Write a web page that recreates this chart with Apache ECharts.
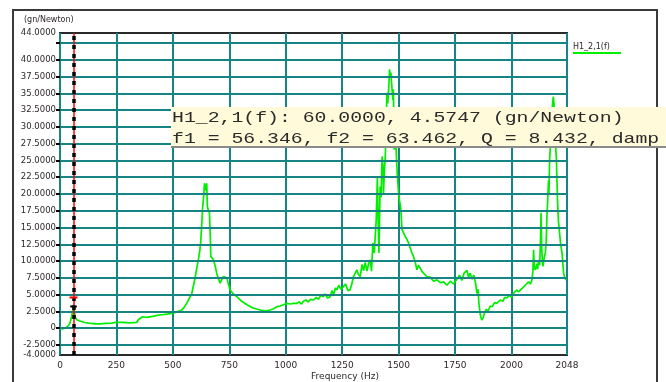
<!DOCTYPE html>
<html>
<head>
    <meta charset="utf-8">
    <title>H1_2,1(f)</title>
    <script src="https://cdn.jsdelivr.net/npm/echarts@6/dist/echarts.min.js"></script>
    <style>
        html, body { margin: 0; padding: 0; background: #fff; }
        #main { width: 666px; height: 382px; }
    </style>
</head>
<body>
<div id="main"></div>
<script>
    // 频响曲线数据 (Hz, gn/Newton)
    var seriesName = 'H1_2,1(f)';
    var freqs = [0, 10, 22, 35, 44, 52, 56, 60, 64, 68, 74, 85, 96, 110, 126, 140, 155, 180, 200, 229,
        244, 280, 310, 340, 347, 365, 384, 410, 430, 451, 475, 495, 515, 539, 550, 561, 572, 584, 598, 606,
        613, 619, 623, 628, 632, 636, 640, 644, 647, 650, 653, 658, 662, 666, 668, 674, 680, 688, 694, 702,
        709, 716, 724, 732, 739, 746, 754, 768, 783, 805, 828, 855, 887, 910, 931, 946, 961, 975, 990, 1005,
        1020, 1035, 1049, 1060, 1070, 1078, 1090, 1100, 1110, 1123, 1135, 1145, 1155, 1167, 1175, 1185, 1197, 1205, 1212, 1220,
        1226, 1235, 1245, 1256, 1265, 1275, 1285, 1292, 1300, 1308, 1315, 1322, 1330, 1338, 1345, 1352, 1360, 1367, 1374, 1380,
        1386, 1392, 1397, 1401, 1406, 1410, 1413, 1418, 1422, 1427, 1431, 1433, 1437, 1441, 1445, 1448, 1452, 1455, 1458, 1460,
        1463, 1466, 1469, 1472, 1475, 1477, 1479, 1481, 1485, 1489, 1494, 1500, 1505, 1510, 1515, 1522, 1529, 1536, 1544, 1552,
        1559, 1566, 1574, 1581, 1588, 1596, 1603, 1610, 1625, 1640, 1655, 1670, 1685, 1700, 1714, 1729, 1743, 1758, 1770, 1780,
        1790, 1803, 1810, 1817, 1826, 1833, 1840, 1847, 1852, 1856, 1862, 1868, 1874, 1880, 1888, 1897, 1906, 1915, 1925, 1935,
        1950, 1962, 1970, 1980, 1990, 2000, 2009, 2016, 2024, 2031, 2039, 2046, 2054, 2061, 2069, 2076, 2084, 2091, 2095, 2098,
        2101, 2106, 2112, 2116, 2120, 2125, 2129, 2131, 2134, 2137, 2140, 2145, 2150, 2154, 2157, 2160, 2164, 2166, 2169, 2172,
        2175, 2178, 2181, 2184, 2186, 2188, 2190, 2193, 2196, 2199, 2204, 2208, 2213, 2218, 2224, 2228, 2231, 2236, 2243];
    var values = [0, -0.1, 0.0, 0.3, 0.75, 1.8, 2.6, 3.2, 2.4, 1.6, 1.25, 1.1, 1.0, 0.85, 0.75, 0.7, 0.65, 0.65, 0.7, 0.75,
        0.85, 0.85, 0.8, 0.85, 1.25, 1.7, 1.6, 1.75, 1.9, 2.0, 2.1, 2.2, 2.4, 2.7, 3.1, 3.7, 4.4, 5.2, 7.4, 9.0,
        10.2, 11.5, 12.7, 15.5, 18.1, 19.5, 21.6, 21.8, 20.5, 21.6, 18.1, 17.5, 17.2, 13.5, 10.7, 10.5, 10.2, 9.2, 8.2, 7.4,
        6.7, 7.2, 7.7, 7.8, 7.5, 6.6, 5.7, 5.1, 4.7, 4.0, 3.5, 3.0, 2.7, 2.6, 2.7, 2.9, 3.2, 3.3, 3.5, 3.7,
        3.6, 3.7, 3.7, 3.9, 3.6, 4.0, 4.2, 3.9, 4.3, 4.2, 4.6, 4.3, 4.9, 4.7, 5.1, 4.5, 4.7, 5.6, 5.0, 6.0,
        5.7, 6.4, 5.8, 6.2, 6.6, 5.6, 5.7, 6.5, 7.7, 8.2, 8.7, 8.0, 7.7, 9.5, 8.6, 9.8, 8.5, 9.6, 10.2, 8.5,
        12.7, 11.2, 14.0, 16.2, 22.6, 15.0, 11.2, 21.1, 19.5, 25.6, 24.0, 20.1, 23.5, 25.6, 30.0, 35.1, 33.5, 35.1, 37.0, 38.6,
        37.6, 38.1, 36.5, 35.1, 34.0, 35.6, 30.5, 26.6, 27.5, 26.6, 23.0, 20.1, 18.8, 17.7, 14.7, 14.2, 13.7, 13.3, 12.7, 11.9,
        11.2, 10.7, 9.8, 8.7, 9.4, 9.2, 8.5, 8.2, 7.7, 7.6, 7.0, 7.2, 6.8, 6.9, 6.4, 7.0, 6.6, 7.3, 7.9, 7.1,
        8.2, 8.6, 7.6, 8.2, 7.3, 7.9, 6.9, 5.2, 5.8, 3.6, 2.0, 1.2, 1.5, 2.2, 2.8, 2.6, 3.3, 3.2, 3.8, 3.7,
        4.2, 4.0, 4.6, 4.5, 4.9, 4.6, 5.2, 5.0, 5.7, 5.4, 5.2, 5.9, 5.7, 6.4, 6.2, 6.9, 6.6, 7.2, 8.5, 11.7,
        9.0, 8.7, 9.6, 8.8, 10.2, 9.4, 13.5, 17.2, 12.0, 10.0, 9.2, 10.5, 11.2, 13.0, 16.5, 18.7, 22.0, 20.0, 25.1, 27.0,
        29.1, 30.5, 33.0, 34.1, 34.5, 33.5, 32.6, 28.0, 27.0, 25.1, 19.1, 16.0, 14.2, 12.5, 11.2, 9.5, 8.2, 7.5, 7.2];

    // 光标读数
    var cursorFreq = 60.0;
    var cursorValue = 4.5747;
    var f1 = 56.346, f2 = 63.462, qFactor = 8.432;

    // 坐标轴刻度
    var xMax = 2246;
    var xLabelValues = [0, 250, 500, 750, 1000, 1250, 1500, 1750, 2000, xMax];
    var xLabelTexts = ['0', '250', '500', '750', '1000', '1250', '1500', '1750', '2000', '2048'];
    var yMin = -4, yMax = 44;
    var yGridValues = [-2.5, 0, 2.5, 5, 7.5, 10, 12.5, 15, 17.5, 20, 22.5, 25, 27.5, 30, 32.5, 35, 37.5, 40, 42.5];
    var yLabelValues = [-4, -2.5, 0, 2.5, 5, 7.5, 10, 12.5, 15, 17.5, 20, 22.5, 25, 27.5, 30, 32.5, 35, 37.5, 40, 44];

    var lineData = freqs.map(function (f, i) { return [f, values[i]]; });
    var halfPower = cursorValue / Math.SQRT2;

    var gridColor = '#168484';
    var labelColor = '#2e2828';

    var myChart = echarts.init(document.getElementById('main'), null, { renderer: 'canvas' });
    myChart.setOption({
        animation: false,
        backgroundColor: '#fff',
        textStyle: { fontFamily: 'DejaVu Sans' },
        grid: {
            left: 60, right: 99, top: 33, bottom: 27,
            show: true, borderColor: '#2a2a2a', borderWidth: 2, backgroundColor: 'transparent'
        },
        xAxis: {
            type: 'value',
            min: 0, max: xMax, interval: 250,
            axisLine: { show: false },
            axisTick: { show: false },
            axisLabel: {
                color: labelColor, fontSize: 9, margin: 6,
                customValues: xLabelValues,
                formatter: function (v) {
                    var i = xLabelValues.indexOf(v);
                    return i >= 0 ? xLabelTexts[i] : '';
                }
            },
            splitLine: { show: true, lineStyle: { color: gridColor, width: 2 } }
        },
        yAxis: {
            type: 'value',
            min: yMin, max: yMax,
            axisLine: { show: false },
            axisTick: {
                show: true, length: 4, customValues: yGridValues,
                lineStyle: { color: '#000', width: 2 }
            },
            axisLabel: {
                color: labelColor, fontSize: 8.5, margin: 4,
                customValues: yLabelValues,
                formatter: function (v) { return v === 0 ? '0' : v.toFixed(4); }
            },
            splitLine: { show: false }
        },
        series: [
            {
                // 横向网格线
                type: 'line',
                data: [],
                z: 1,
                silent: true,
                markLine: {
                    silent: true,
                    symbol: 'none',
                    label: { show: false },
                    emphasis: { disabled: true },
                    lineStyle: { color: gridColor, width: 2, type: 'solid' },
                    data: yGridValues.map(function (v) { return { yAxis: v }; })
                }
            },
            {
                name: seriesName,
                type: 'line',
                data: lineData,
                z: 3,
                showSymbol: false,
                silent: true,
                lineStyle: { color: '#00ee00', width: 1.7 },
                itemStyle: { color: '#00ee00' },
                markLine: {
                    silent: true,
                    symbol: 'none',
                    label: { show: false },
                    emphasis: { disabled: true },
                    data: [
                        { xAxis: cursorFreq, lineStyle: { color: '#ff0000', width: 1.5, type: 'solid' } },
                        { xAxis: cursorFreq, lineStyle: { color: '#000', width: 3.5, type: [4, 5] } }
                    ]
                },
                markPoint: {
                    silent: true,
                    label: { show: false },
                    data: [
                        { coord: [cursorFreq, cursorValue], symbol: 'rect', symbolSize: [8, 2], itemStyle: { color: '#ff0000' } },
                        { coord: [f1, halfPower], symbol: 'rect', symbolSize: [5, 2], itemStyle: { color: '#000' } },
                        { coord: [f2, halfPower], symbol: 'rect', symbolSize: [5, 2], itemStyle: { color: '#000' } }
                    ]
                }
            }
        ],
        graphic: [
            {
                type: 'rect', silent: true, z: 0,
                shape: { x: 13, y: 10, width: 644, height: 390 },
                style: { fill: 'none', stroke: '#3a3a3a', lineWidth: 2 }
            },
            {
                type: 'text', silent: true, x: 24, y: 20,
                style: { text: '(gn/Newton)', font: '8px "DejaVu Sans"', fill: labelColor, verticalAlign: 'middle' }
            },
            {
                type: 'text', silent: true, x: 345, y: 377,
                style: { text: 'Frequency (Hz)', font: '9px "DejaVu Sans"', fill: labelColor, align: 'center', verticalAlign: 'middle' }
            },
            {
                type: 'text', silent: true, x: 573, y: 47,
                style: { text: seriesName, font: '8px "DejaVu Sans"', fill: labelColor, verticalAlign: 'middle' }
            },
            {
                type: 'line', silent: true,
                shape: { x1: 573, y1: 53, x2: 621, y2: 53 },
                style: { stroke: '#00ee00', lineWidth: 2 }
            },
            // 光标读数框
            {
                type: 'rect', silent: true, z: 10,
                shape: { x: 171, y: 107, width: 500, height: 40 },
                style: { fill: '#fffbda', stroke: null }
            },
            {
                type: 'line', silent: true, z: 10,
                shape: { x1: 171, y1: 147, x2: 666, y2: 147 },
                style: { stroke: '#8a8a8a', lineWidth: 2 }
            },
            {
                type: 'text', silent: true, z: 11, x: 172, y: 118, scaleX: 1.32,
                style: {
                    text: 'H1_2,1(f): ' + cursorFreq.toFixed(4) + ', ' + cursorValue.toFixed(4) + ' (gn/Newton)',
                    font: '15px "Liberation Mono"', fill: '#2a2a2a', verticalAlign: 'middle'
                }
            },
            {
                type: 'text', silent: true, z: 11, x: 172, y: 139, scaleX: 1.32,
                style: {
                    text: 'f1 = ' + f1.toFixed(3) + ', f2 = ' + f2.toFixed(3) + ', Q = ' + qFactor.toFixed(3) + ', damp',
                    font: '15px "Liberation Mono"', fill: '#2a2a2a', verticalAlign: 'middle'
                }
            }
        ]
    });
</script>
</body>
</html>
